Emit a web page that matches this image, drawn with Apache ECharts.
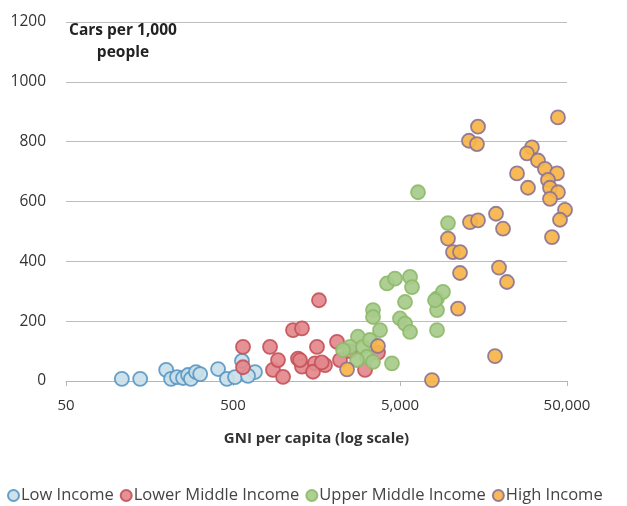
<!DOCTYPE html>
<html>
<head>
<meta charset="utf-8">
<script src="https://cdn.jsdelivr.net/npm/echarts@6/dist/echarts.min.js"></script>
<style>html,body{margin:0;padding:0;background:#fff}#c{width:627px;height:506px}</style>
</head>
<body>
<div id="c"></div>
<script>
// Tick labels
const xTicks = [50, 500, 5000, 50000];
const yTicks = [0, 200, 400, 600, 800, 1000, 1200];
const seriesNames = ["Low Income", "Lower Middle Income", "Upper Middle Income", "High Income"];

// Low income: GNI per capita, cars per 1,000
const lowGni  = [108, 139, 199, 213, 231, 251, 269, 280, 300, 318, 407, 460, 514, 566, 677, 615];
const lowCars = [7, 7, 37, 7, 13, 10, 20, 7, 30, 23, 40, 7, 13, 67, 30, 17];

// Lower middle income
const lmGni  = [574, 574, 833, 868, 930, 997, 1144, 1294, 1225, 1294, 1592, 1548, 1507, 1636, 1778, 2098, 2186, 2510, 3087, 3690, 1260, 1700];
const lmCars = [114, 46, 114, 37, 70, 14, 170, 176, 75, 48, 114, 59, 31, 270, 53, 131, 70, 100, 37, 95, 70, 62];

// Upper middle income
const umGni  = [6410, 9690, 4180, 4666, 5740, 5900, 5358, 8330, 9040, 8330, 3446, 3446, 5000, 5358, 5740, 8330, 3795, 2800, 2510, 3000, 3170, 4475, 3446, 2765, 2280, 8100, 3300];
const umCars = [631, 528, 326, 342, 348, 314, 264, 276, 298, 237, 237, 214, 209, 192, 164, 170, 170, 148, 114, 114, 81, 59, 64, 70, 103, 270, 137];

// High income
const hiGni  = [44150, 14660, 12940, 14450, 30850, 28800, 33500, 36900, 43550, 25100, 38450, 39550, 29200, 44150, 39550, 48650, 45400, 18790, 20700, 40650, 13120, 14660, 9690, 10380, 11440, 11440, 19580, 21860, 11130, 18530, 7770, 2410, 3690];
const hiCars = [881, 850, 803, 792, 781, 761, 737, 709, 694, 694, 672, 646, 646, 631, 609, 572, 539, 559, 509, 481, 531, 537, 476, 431, 431, 361, 379, 331, 242, 83, 3, 39, 117];

function pts(xs, ys) { return xs.map((x, i) => [x, ys[i]]); }

const styles = [
  { color: '#c9e0e9', borderColor: '#5b98c4' },
  { color: '#e3888c', borderColor: '#c4545a' },
  { color: '#a6cb8b', borderColor: '#8fba6a' },
  { color: '#f6b449', borderColor: '#8e7492' }
];
const datas = [pts(lowGni, lowCars), pts(lmGni, lmCars), pts(umGni, umCars), pts(hiGni, hiCars)];

const font = '"Open Sans", "Liberation Sans", sans-serif';
const chart = echarts.init(document.getElementById('c'), null, { renderer: 'canvas' });
chart.setOption({
  animation: false,
  backgroundColor: '#fff',
  textStyle: { fontFamily: font },
  grid: { left: 66, right: 60, top: 22, bottom: 125, containLabel: false },
  xAxis: {
    type: 'log', logBase: 10, min: xTicks[0], max: xTicks[xTicks.length - 1],
    name: 'GNI per capita (log scale)', nameLocation: 'middle', nameGap: 50,
    nameTextStyle: { fontFamily: font, fontWeight: 'bold', fontSize: 15, color: '#333' },
    axisLine: { lineStyle: { color: '#b5b5b5', width: 1 } },
    axisTick: { show: true, length: 5, customValues: xTicks, lineStyle: { color: '#b5b5b5' } },
    splitLine: { show: false },
    axisLabel: { fontFamily: font, fontSize: 15, color: '#333', margin: 17,
      customValues: xTicks,
      formatter: v => Number(v).toLocaleString('en-US') }
  },
  yAxis: {
    type: 'value', min: yTicks[0], max: yTicks[yTicks.length - 1], interval: 200,
    axisLine: { show: false }, axisTick: { show: false },
    splitLine: { lineStyle: { color: '#bdbdbd', width: 1 } },
    axisLabel: { fontFamily: font, fontSize: 15.5, color: '#333', margin: 20, formatter: v => String(v) }
  },
  legend: {
    left: 2, bottom: -3, itemWidth: 11, itemHeight: 11, itemGap: 6,
    icon: 'circle',
    textStyle: { fontFamily: font, fontSize: 16.5, color: '#444', padding: [0, 0, 0, -3] },
    data: seriesNames
  },
  graphic: [{
    type: 'text', left: 69, top: 20,
    style: { text: 'Cars per 1,000\npeople', fontFamily: font, fontWeight: 'bold', fontSize: 15.5,
      lineHeight: 22, fill: '#222', align: 'center', textAlign: 'center' }
  }],
  series: seriesNames.map((n, i) => ({
    name: n, type: 'scatter', symbol: 'circle', symbolSize: 14,
    itemStyle: { color: styles[i].color, borderColor: styles[i].borderColor, borderWidth: 1.8, opacity: 0.92 },
    data: datas[i]
  }))
});
</script>
</body>
</html>
